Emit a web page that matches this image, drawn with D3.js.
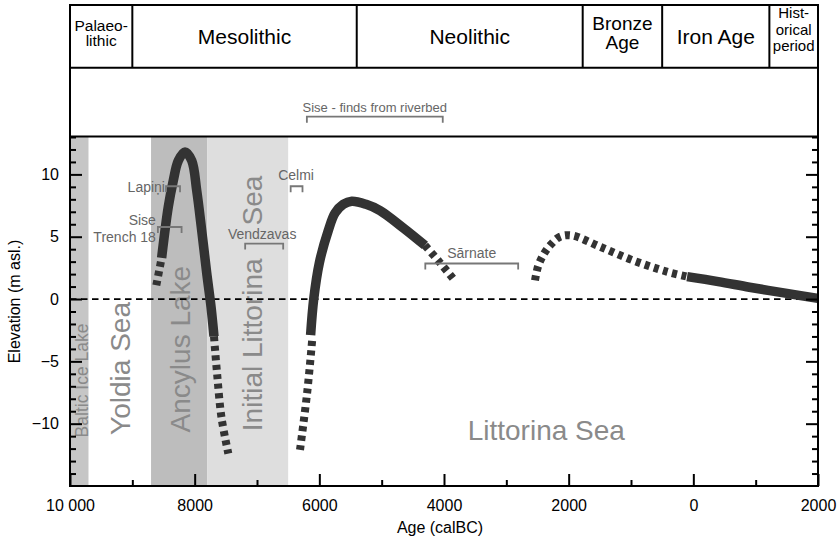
<!DOCTYPE html>
<html>
<head>
<meta charset="utf-8">
<script src="https://cdn.jsdelivr.net/npm/d3@7/dist/d3.min.js"></script>
<style>
  html, body { margin: 0; padding: 0; background: #fff; }
  svg { display: block; font-family: "Liberation Sans", Arial, Helvetica, sans-serif; }
</style>
</head>
<body>
<svg id="chart" width="838" height="545"></svg>
<script>
// ---- Data -------------------------------------------------------------
// Archaeological periods (age boundaries in cal BC; negative = AD)
const periodNames = [["Palaeo-", "lithic"], ["Mesolithic"], ["Neolithic"], ["Bronze", "Age"], ["Iron Age"], ["Hist-", "orical", "period"]];
const periodBounds = [10000, 9000, 5400, 1775, 500, -1220, -2000];

// Baltic basin stages shown as background bands
const stageNames = ["Baltic Ice Lake", "Yoldia Sea", "Ancylus Lake", "Initial Littorina Sea"];
const stageFrom = [10000, 9700, 8700, 7800];
const stageTo = [9700, 8700, 7800, 6500];

// Shoreline displacement curve (age cal BC, elevation m asl.)
const ancylusRiseUncertain = [[8615, 1.1], [8530, 3.3]];
const ancylusCurve = [[8530, 3.3], [8423, 7.4], [8343, 9.5], [8262, 11.1], [8155, 11.8], [8047, 11.1], [7967, 8.7], [7887, 5.5], [7807, 2.1], [7738, -0.6], [7690, -3.0]];
const ancylusFallUncertain = [[7690, -3.0], [7640, -6.0], [7570, -9.5], [7460, -12.4]];
const littorinaRiseUncertain = [[6310, -12.1], [6195, -7.5], [6115, -3.3]];
const littorinaCurve = [[6140, -2.9], [6090, 0], [6000, 2.9], [5856, 5.5], [5748, 6.9], [5615, 7.6], [5480, 7.85], [5250, 7.6], [5026, 7.1], [4652, 5.7], [4305, 4.3]];
const littorinaFallUncertain = [[4305, 4.3], [4070, 2.95], [3830, 1.5]];
const lateUncertain = [[2540, 1.5], [2492, 2.6], [2411, 3.5], [2299, 4.3], [2139, 5.0], [1951, 5.1], [1497, 4.2], [968, 3.1], [427, 2.2], [100, 1.8]];
const lateCurve = [[100, 1.8], [-400, 1.4], [-900, 0.95], [-1500, 0.45], [-2000, 0.05]];

// Dated sites: name lines, age span, elevation
const siteNames = [["Lapiņi"], ["Sise", "Trench 18"], ["Celmi"], ["Vendzavas"], ["Sārnate"]];
const siteFrom = [8460, 8590, 6460, 7190, 4300];
const siteTo = [8235, 8210, 6270, 6580, 2810];
const siteElev = [9.05, 5.78, 9.05, 4.45, 2.85];
const riverbedName = "Sise - finds from riverbed";
const riverbedSpan = [6200, 4020];

// Axis ticks
const xTickValues = [10000, 8000, 6000, 4000, 2000, 0, -2000];
const xTickLabels = ["10 000", "8000", "6000", "4000", "2000", "0", "2000"];
const xMinorTicks = [9000, 7000, 5000, 3000, 1000, -1000];
const yTickValues = [10, 5, 0, -5, -10];

// ---- Layout -----------------------------------------------------------
const svg = d3.select("#chart");
const L = 70, R = 818, T = 5, rowB = 67.7, plotT = 137, plotB = 486;

const x = d3.scaleLinear().domain([10000, -2000]).range([L, R]);
const y = d3.scaleLinear().domain([-15, 13]).range([plotB, plotT]);

// Background stage bands
const stageFill = { "Baltic Ice Lake": "#c6c6c6", "Yoldia Sea": "#ffffff", "Ancylus Lake": "#bdbdbd", "Initial Littorina Sea": "#dedede" };
svg.append("g").selectAll("rect").data(stageNames).join("rect")
  .attr("x", (d, i) => x(stageFrom[i]))
  .attr("width", (d, i) => x(stageTo[i]) - x(stageFrom[i]))
  .attr("y", plotT).attr("height", plotB - plotT)
  .attr("fill", d => stageFill[d]);

// Stage labels (vertical)
const stageLabel = svg.append("g").attr("fill", "#8a8a8a");
function vText(str, px, py, size) {
  stageLabel.append("text")
    .attr("transform", `translate(${px},${py}) rotate(-90)`)
    .attr("font-size", size).text(str);
}
vText(stageNames[0], x(stageTo[0]) - 0.5, y(-11.1), 17.5);
vText(stageNames[1], (x(stageFrom[1]) + x(stageTo[1])) / 2 + 10.5, y(-10.9), 28);
vText(stageNames[2], (x(stageFrom[2]) + x(stageTo[2])) / 2 + 10.5, y(-10.7), 28);
vText("Initial Littorina", (x(stageFrom[3]) + x(stageTo[3])) / 2 + 14, y(-10.6), 28);
vText("Sea", (x(stageFrom[3]) + x(stageTo[3])) / 2 + 14, y(5.9), 28);

svg.append("text").attr("x", x(5000) + 86).attr("y", y(-11.3))
  .attr("text-anchor", "start").attr("font-size", 28).attr("fill", "#8a8a8a")
  .text("Littorina Sea");

// Present sea level
svg.append("line").attr("x1", L).attr("x2", R).attr("y1", y(0)).attr("y2", y(0))
  .attr("stroke", "#000").attr("stroke-width", 1.8).attr("stroke-dasharray", "6.5,4.5");

// Shoreline curve
const line = d3.line().x(d => x(d[0])).y(d => y(d[1])).curve(d3.curveCatmullRom.alpha(0.5));
const curveG = svg.append("g").attr("fill", "none").attr("stroke", "#333");
[ancylusCurve, littorinaCurve, lateCurve].forEach(seg => {
  curveG.append("path").attr("d", line(seg)).attr("stroke-width", 9.5);
});
[ancylusRiseUncertain, ancylusFallUncertain, littorinaRiseUncertain, littorinaFallUncertain, lateUncertain].forEach(seg => {
  curveG.append("path").attr("d", line(seg)).attr("stroke-width", 8).attr("stroke-dasharray", "5,4.5");
});

// Site brackets
const ann = svg.append("g");
const annColor = "#777", annText = "#666";
function bracket(x1, x2, yy) {
  ann.append("path")
    .attr("d", `M${x1},${yy + 6}V${yy}H${x2}V${yy + 6}`)
    .attr("fill", "none").attr("stroke", annColor).attr("stroke-width", 1.8);
}
siteNames.forEach((nm, i) => bracket(x(siteFrom[i]), x(siteTo[i]), y(siteElev[i])));

// Site name labels
ann.append("text").attr("x", x(siteFrom[0]) - 1).attr("y", y(siteElev[0]) + 5.5)
  .attr("text-anchor", "end").attr("font-size", 14).attr("fill", annText).text(siteNames[0][0]);
siteNames[1].forEach((s, k) => {
  ann.append("text").attr("x", x(siteFrom[1]) - 2).attr("y", y(siteElev[1]) - 2.4 + k * 17.4)
    .attr("text-anchor", "end").attr("font-size", 14).attr("fill", annText).text(s);
});
ann.append("text").attr("x", (x(siteFrom[2]) + x(siteTo[2])) / 2 - 0.5).attr("y", y(siteElev[2]) - 6)
  .attr("text-anchor", "middle").attr("font-size", 14).attr("fill", annText).text(siteNames[2][0]);
ann.append("text").attr("x", (x(siteFrom[3]) + x(siteTo[3])) / 2 - 2).attr("y", y(siteElev[3]) - 5)
  .attr("text-anchor", "middle").attr("font-size", 14).attr("fill", annText).text(siteNames[3][0]);
ann.append("text").attr("x", (x(siteFrom[4]) + x(siteTo[4])) / 2).attr("y", y(siteElev[4]) - 5.3)
  .attr("text-anchor", "middle").attr("font-size", 14).attr("fill", annText).text(siteNames[4][0]);

// Riverbed finds (second header row)
const rbY = 116.7;
ann.append("path")
  .attr("d", `M${x(riverbedSpan[0])},${rbY + 6}V${rbY}H${x(riverbedSpan[1])}V${rbY + 6}`)
  .attr("fill", "none").attr("stroke", annColor).attr("stroke-width", 1.8);
ann.append("text").attr("x", (x(riverbedSpan[0]) + x(riverbedSpan[1])) / 2).attr("y", rbY - 4.5)
  .attr("text-anchor", "middle").attr("font-size", 13).attr("fill", annText).text(riverbedName);

// ---- Axes -------------------------------------------------------------
const axisFont = 16;
svg.append("g").attr("transform", `translate(0,${plotB})`)
  .call(d3.axisBottom(x).tickValues(xTickValues).tickSize(-12).tickPadding(13.5)
    .tickFormat((d, i) => xTickLabels[i]));
svg.append("g").attr("transform", `translate(0,${plotB})`)
  .call(d3.axisBottom(x).tickValues(xMinorTicks).tickSize(-6).tickFormat(""));

const yMinor = d3.range(-15, 14).filter(v => v % 5 !== 0);
svg.append("g").attr("transform", `translate(${L},0)`)
  .call(d3.axisLeft(y).tickValues(yTickValues).tickSize(-12).tickPadding(11));
svg.append("g").attr("transform", `translate(${L},0)`)
  .call(d3.axisLeft(y).tickValues(yMinor).tickSize(-6).tickFormat(""));
svg.append("g").attr("transform", `translate(${R},0)`)
  .call(d3.axisRight(y).tickValues(yTickValues).tickSize(-12).tickFormat(""));
svg.append("g").attr("transform", `translate(${R},0)`)
  .call(d3.axisRight(y).tickValues(yMinor).tickSize(-6).tickFormat(""));

svg.selectAll(".domain").remove();
svg.selectAll(".tick line").attr("stroke", "#000").attr("stroke-width", 2);
svg.selectAll(".tick text").attr("font-size", axisFont).attr("fill", "#000")
  .attr("font-family", "'Liberation Sans', Arial, sans-serif");

svg.append("text").attr("x", (L + R) / 2 - 4).attr("y", 533)
  .attr("text-anchor", "middle").attr("font-size", 16).text("Age (calBC)");
svg.append("text").attr("transform", `translate(20,${(plotT + plotB) / 2 - 10}) rotate(-90)`)
  .attr("text-anchor", "middle").attr("font-size", 16).text("Elevation (m asl.)");

// ---- Period header ------------------------------------------------------
const periodFont = [15.5, 21, 21, 19, 21, 15];
const periodLead = [15.5, 0, 0, 19, 0, 16.7];
const hdr = svg.append("g");
const midY = (T + rowB) / 2;
periodNames.forEach((lines, i) => {
  const cx = (x(periodBounds[i]) + x(periodBounds[i + 1])) / 2;
  const n = lines.length, fs = periodFont[i], lh = periodLead[i];
  lines.forEach((s, k) => {
    hdr.append("text").attr("x", cx)
      .attr("y", midY + 0.36 * fs + (k - (n - 1) / 2) * lh - 3.5 * (n - 1))
      .attr("text-anchor", "middle").attr("font-size", fs).text(s);
  });
});

// Frame lines
const frame = svg.append("g").attr("stroke", "#000").attr("stroke-width", 2).attr("fill", "none");
frame.append("rect").attr("x", L).attr("y", T).attr("width", R - L).attr("height", plotB - T);
frame.append("line").attr("x1", L).attr("x2", R).attr("y1", rowB).attr("y2", rowB);
frame.append("line").attr("x1", L).attr("x2", R).attr("y1", plotT - 0.5).attr("y2", plotT - 0.5);
periodBounds.slice(1, -1).forEach(b => {
  frame.append("line").attr("x1", x(b)).attr("x2", x(b)).attr("y1", T).attr("y2", rowB);
});
</script>
</body>
</html>
